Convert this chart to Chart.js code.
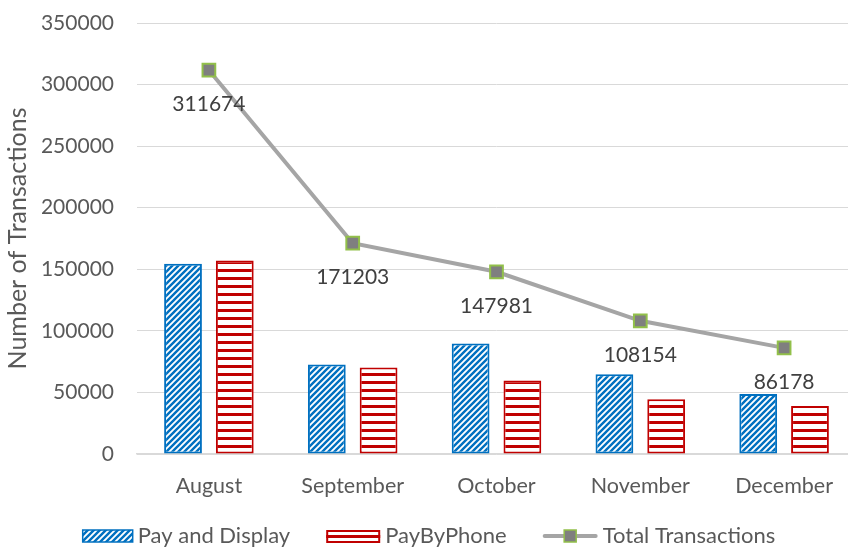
<!DOCTYPE html>
<html>
<head>
<meta charset="utf-8">
<script src="https://cdn.jsdelivr.net/npm/chart.js@4"></script>
<style>
  html, body { margin: 0; padding: 0; background: #fff; overflow: hidden; }
  #chart { display: block; }
</style>
</head>
<body>
<canvas id="chart" width="867" height="547"></canvas>
<script>
const months = ['August', 'September', 'October', 'November', 'December'];
const payAndDisplay = [154500, 72700, 89800, 64800, 48800];
const payByPhone = [157200, 70200, 59700, 44500, 38900];
const totalTransactions = [311674, 171203, 147981, 108154, 86178];
const yTicks = [0, 50000, 100000, 150000, 200000, 250000, 300000, 350000];

const FONT = 'Lato, "Open Sans", sans-serif';
const BLUE = '#0070C0';
const RED = '#C00000';

function makePattern(w, h, draw) {
  const c = document.createElement('canvas');
  c.width = w;
  c.height = h;
  const g = c.getContext('2d');
  g.fillStyle = '#fff';
  g.fillRect(0, 0, w, h);
  draw(g);
  return document.getElementById('chart').getContext('2d').createPattern(c, 'repeat');
}

// blue diagonal stripes "/"
const bluePattern = makePattern(6, 6, g => {
  g.strokeStyle = BLUE;
  g.lineWidth = 2.4;
  g.beginPath();
  g.moveTo(-1, 7); g.lineTo(7, -1);
  g.moveTo(-1, 1); g.lineTo(1, -1);
  g.moveTo(5, 7); g.lineTo(7, 5);
  g.stroke();
});

// red horizontal stripes
const redPattern = makePattern(4, 8, g => {
  g.fillStyle = RED;
  g.fillRect(0, 5, 4, 3);
});

const pointLabels = {
  id: 'pointLabels',
  afterDatasetsDraw(chart) {
    const ctx = chart.ctx;
    const meta = chart.getDatasetMeta(2);
    ctx.save();
    ctx.font = '21px ' + FONT;
    ctx.fillStyle = '#404040';
    ctx.textAlign = 'center';
    ctx.textBaseline = 'middle';
    meta.data.forEach((pt, i) => {
      ctx.fillText(String(totalTransactions[i]), pt.x, pt.y + 34);
    });
    ctx.restore();
  }
};

const bottomLegend = {
  id: 'bottomLegend',
  afterDraw(chart) {
    const ctx = chart.ctx;
    const y = 536;
    ctx.save();
    ctx.font = '22px ' + FONT;
    ctx.textBaseline = 'middle';

    const labels = chart.data.datasets.map(d => d.label);
    const boxW = [50, 54, 55];
    const gapText = 5;
    const gapItem = 36;
    let total = 0;
    labels.forEach((l, i) => {
      total += boxW[i] + gapText + ctx.measureText(l).width;
    });
    total += gapItem * 2;
    let x = 429 - total / 2;

    labels.forEach((l, i) => {
      if (i === 0) {
        ctx.fillStyle = bluePattern;
        ctx.fillRect(x, y - 6, boxW[i], 12);
        ctx.strokeStyle = BLUE;
        ctx.lineWidth = 1.5;
        ctx.strokeRect(x, y - 6, boxW[i], 12);
      } else if (i === 1) {
        ctx.fillStyle = '#fff';
        ctx.fillRect(x, y - 5, boxW[i], 11);
        ctx.fillStyle = RED;
        ctx.fillRect(x, y - 1, boxW[i], 3);
        ctx.strokeStyle = RED;
        ctx.lineWidth = 2;
        ctx.strokeRect(x + 1, y - 5, boxW[i] - 2, 11);
      } else {
        ctx.strokeStyle = '#A5A5A5';
        ctx.lineWidth = 4;
        ctx.lineCap = 'round';
        ctx.beginPath();
        ctx.moveTo(x + 2, y);
        ctx.lineTo(x + boxW[i] - 2, y);
        ctx.stroke();
        ctx.fillStyle = '#7F7F7F';
        ctx.fillRect(x + boxW[i] / 2 - 6, y - 6, 12, 12);
        ctx.strokeStyle = '#92C04A';
        ctx.lineWidth = 1.5;
        ctx.strokeRect(x + boxW[i] / 2 - 6, y - 6, 12, 12);
      }
      x += boxW[i] + gapText;
      ctx.fillStyle = '#595959';
      ctx.fillText(l, x, y);
      x += ctx.measureText(l).width + gapItem;
    });
    ctx.restore();
  }
};

new Chart(document.getElementById('chart').getContext('2d'), {
  type: 'bar',
  data: {
    labels: months,
    datasets: [{
      label: 'Pay and Display',
      data: payAndDisplay,
      backgroundColor: bluePattern,
      borderColor: BLUE,
      borderWidth: 2,
      borderSkipped: false,
      order: 1,
      categoryPercentage: 0.72,
      barPercentage: 0.73
    }, {
      label: 'PayByPhone',
      data: payByPhone,
      backgroundColor: redPattern,
      borderColor: RED,
      borderWidth: 2,
      borderSkipped: false,
      order: 1,
      categoryPercentage: 0.72,
      barPercentage: 0.73
    }, {
      type: 'line',
      label: 'Total Transactions',
      data: totalTransactions,
      borderColor: '#A5A5A5',
      borderWidth: 4,
      pointStyle: 'rect',
      pointRadius: 9,
      pointBackgroundColor: '#7F7F7F',
      pointBorderColor: '#92C04A',
      pointBorderWidth: 2,
      order: 0
    }]
  },
  options: {
    responsive: false,
    animation: false,
    layout: {
      padding: { top: 23, right: 4, left: 0, bottom: 43 }
    },
    plugins: {
      legend: { display: false },
      tooltip: { enabled: false }
    },
    scales: {
      x: {
        grid: { display: false, drawTicks: false },
        border: { color: '#D9D9D9', width: 1.5 },
        ticks: {
          color: '#595959',
          padding: 19,
          font: { family: FONT, size: 21.5 }
        },
        afterFit: s => { s.height = 50; s.paddingLeft = 0; s.paddingRight = 0; }
      },
      y: {
        min: 0,
        max: 350000,
        afterBuildTicks: s => { s.ticks = yTicks.map(v => ({ value: v })); },
        grid: { color: '#D9D9D9', drawTicks: false },
        border: { display: false },
        ticks: {
          color: '#595959',
          padding: 23,
          font: { family: FONT, size: 21 },
          callback: v => String(v)
        },
        title: {
          display: true,
          text: 'Number of Transactions',
          color: '#595959',
          font: { family: FONT, size: 25 },
          padding: { top: 3, bottom: 0 }
        },
        afterFit: s => { s.width = 137; s.paddingTop = 0; s.paddingBottom = 0; }
      }
    }
  },
  plugins: [pointLabels, bottomLegend]
});
</script>
</body>
</html>
